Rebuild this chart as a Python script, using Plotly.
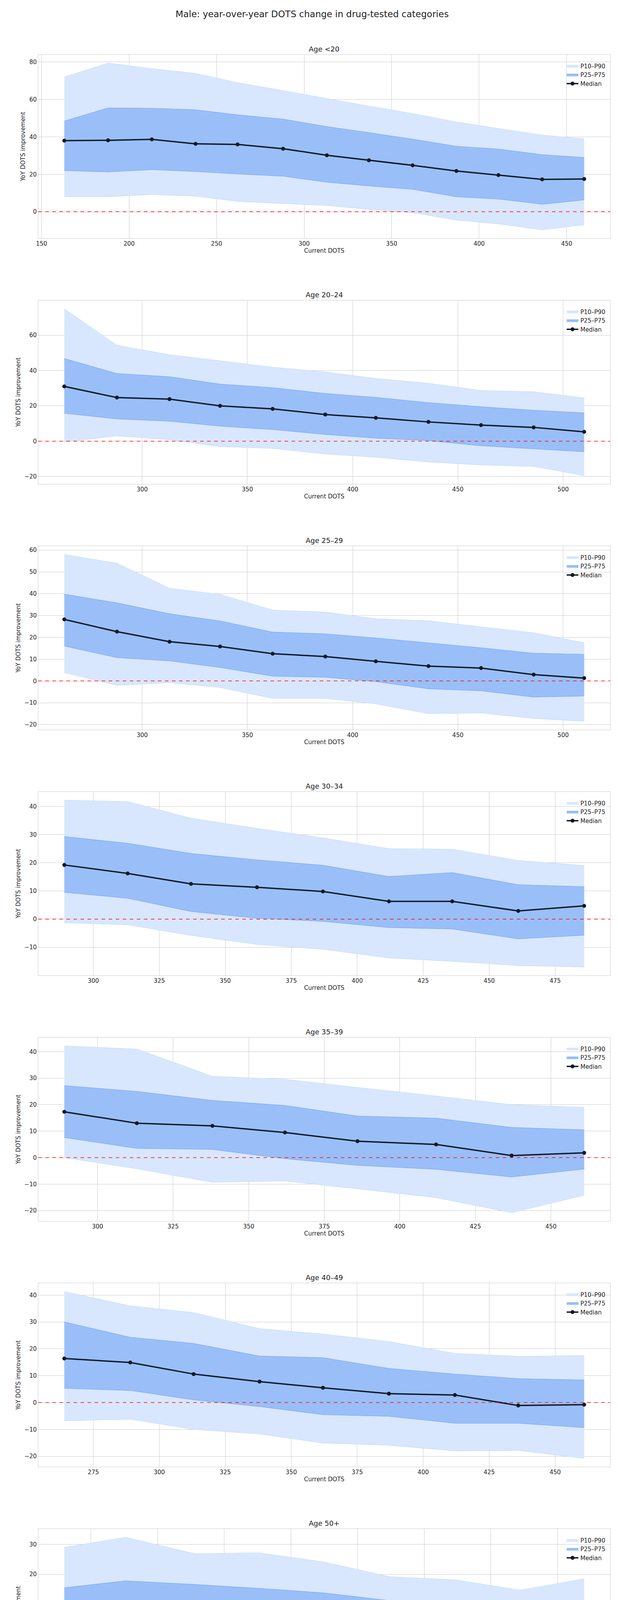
import plotly.graph_objects as go
from plotly.subplots import make_subplots

ages = ["<20", "20–24", "25–29", "30–34", "35–39", "40–49", "50+"]

# current DOTS bins (x) per age group
x_u20 = [163, 188, 213, 238, 262, 288, 313, 337, 362, 387, 411, 436, 460]
x_2024 = [263, 288, 313, 337, 362, 387, 411, 436, 461, 486, 510]
x_2529 = [263, 288, 313, 337, 362, 387, 411, 436, 461, 486, 510]
x_3034 = [289, 313, 337, 362, 387, 412, 436, 461, 486]
x_3539 = [289, 313, 338, 362, 386, 412, 437, 461]
x_4049 = [264, 289, 313, 338, 362, 387, 412, 436, 461]
x_50p = [215, 238, 264, 288, 312, 337, 362, 386, 410]

med_u20 = [38, 38.2, 38.7, 36.3, 36, 33.7, 30.2, 27.5, 24.8, 21.8, 19.6, 17.3, 17.5]
p75_u20 = [48.5, 55.5, 55.3, 54.5, 51.8, 49.5, 45.5, 42.3, 38.8, 35, 33.5, 30.5, 29]
p25_u20 = [22, 21.3, 22.5, 21.5, 20.2, 19, 15.8, 13.8, 12, 8, 6.8, 4, 6.3]
p90_u20 = [72, 79.5, 76.5, 74, 69, 64.8, 60.5, 56.5, 52.5, 48, 44.5, 41, 39]
p10_u20 = [8, 8, 9.2, 8.3, 5.5, 4.3, 3.3, 1.2, -0.5, -4.5, -6.5, -9.7, -7]

med_2024 = [31, 24.7, 23.8, 20, 18.3, 15.1, 13.2, 10.9, 9.1, 7.8, 5.3]
p75_2024 = [46.8, 38.3, 36.5, 32.3, 30.3, 27, 24.8, 21.8, 19.5, 17.5, 16]
p25_2024 = [15.8, 12.6, 11.3, 8.5, 6.6, 3.8, 1.7, 0.3, -2.6, -4.3, -6]
p90_2024 = [75, 54.3, 49, 45.5, 41.9, 39.2, 35.5, 32.8, 28.7, 28, 24.5]
p10_2024 = [-0.5, 3, 0.8, -3.1, -4.1, -7.3, -9.1, -11.8, -13.5, -14.3, -19.5]

med_2529 = [28.2, 22.6, 18, 15.8, 12.5, 11.2, 9, 6.8, 5.9, 2.9, 1.3]
p75_2529 = [39.8, 35.8, 30.8, 27.5, 22.4, 21.6, 19.7, 17.4, 15.2, 12.7, 12.2]
p25_2529 = [16, 10.7, 9.2, 6.2, 2.2, 1.7, -0.3, -3.6, -4.5, -7.4, -6.9]
p90_2529 = [58, 54, 42.5, 39.7, 32.5, 31.6, 28.5, 27.6, 24.8, 22.1, 17.5]
p10_2529 = [3.8, -2, -0.8, -3, -8, -8, -10.5, -15, -14.7, -17.2, -18.5]

med_3034 = [19.2, 16.2, 12.5, 11.3, 9.8, 6.3, 6.3, 2.9, 4.7]
p75_3034 = [29.3, 26.9, 23.3, 21, 19.1, 15.1, 16.5, 12.2, 11.5]
p25_3034 = [9.5, 7.4, 2.7, 0.3, -0.8, -3, -3.5, -7, -5.7]
p90_3034 = [42.2, 41.7, 35.8, 32.2, 28.8, 25, 24.8, 20.8, 19]
p10_3034 = [-1.3, -2, -5.8, -9, -10.7, -13.8, -15, -16.5, -17]

med_3539 = [17.3, 13, 12, 9.5, 6.2, 5, 0.8, 1.8]
p75_3539 = [27.2, 25, 21.6, 19.7, 15.7, 14.9, 11.4, 10.5]
p25_3539 = [7.6, 3.5, 3.1, -0.4, -2.9, -4.4, -7.3, -4.3]
p90_3539 = [42.2, 41, 30.7, 29.6, 26.5, 23.3, 20, 19]
p10_3539 = [0, -4.2, -9.3, -8.8, -11.8, -15.1, -20.8, -14.2]

med_4049 = [16.4, 14.9, 10.6, 7.8, 5.5, 3.3, 2.8, -1.1, -0.8]
p75_4049 = [30, 24.3, 22, 17.3, 16.7, 12.7, 10.6, 8.9, 8.4]
p25_4049 = [5.3, 4.5, 1, -1.5, -4.5, -5.1, -7.7, -7.7, -9.3]
p90_4049 = [41.3, 36, 33.5, 27.5, 25.5, 22.7, 18.3, 17.2, 17.5]
p10_4049 = [-6.8, -6.2, -10, -11.7, -15.1, -15.9, -18, -17.8, -20.8]

med_50p = [6.5, 7.2, 5.8, 5.8, 4.4, 2.3, 1.5, -0.4, -0.3]
p75_50p = [15.5, 17.8, 16.6, 15.3, 13.8, 11.2, 9.2, 8.3, 7.5]
p25_50p = [-3, -2.8, -4.1, -4.7, -5.8, -7.6, -7.5, -10.1, -10.9]
p90_50p = [29, 32.4, 26.9, 27.2, 24.2, 19.2, 18.1, 14.7, 18.5]
p10_50p = [-11.1, -12.4, -12.7, -14.9, -16.2, -18.1, -18.5, -23.5, -19.5]

groups = [
    (x_u20, med_u20, p25_u20, p75_u20, p10_u20, p90_u20, 50, 20),
    (x_2024, med_2024, p25_2024, p75_2024, p10_2024, p90_2024, 50, 20),
    (x_2529, med_2529, p25_2529, p75_2529, p10_2529, p90_2529, 50, 10),
    (x_3034, med_3034, p25_3034, p75_3034, p10_3034, p90_3034, 25, 10),
    (x_3539, med_3539, p25_3539, p75_3539, p10_3539, p90_3539, 25, 10),
    (x_4049, med_4049, p25_4049, p75_4049, p10_4049, p90_4049, 25, 10),
    (x_50p, med_50p, p25_50p, p75_50p, p10_50p, p90_50p, 25, 10),
]

LIGHT = "#d8e7fd"
LIGHT_LINE = "#c2d9fb"
MID = "#9abff8"
MID_LINE = "#6f9ff0"
FONT = "DejaVu Sans"

fig = make_subplots(
    rows=7, cols=1,
    subplot_titles=[f"Age {a}" for a in ages],
    vertical_spacing=0.0375,
)

for i, (x, med, p25, p75, p10, p90, dx, dy) in enumerate(groups):
    r = i + 1
    leg = "legend" if r == 1 else f"legend{r}"
    fig.add_trace(go.Scatter(x=x, y=p10, mode="lines", line=dict(color=LIGHT_LINE, width=1),
                             showlegend=False, hoverinfo="skip", legend=leg), row=r, col=1)
    fig.add_trace(go.Scatter(x=x, y=p90, mode="lines", line=dict(color=LIGHT_LINE, width=1),
                             fill="tonexty", fillcolor=LIGHT, name="P10–P90", legend=leg), row=r, col=1)
    fig.add_trace(go.Scatter(x=x, y=p25, mode="lines", line=dict(color=MID_LINE, width=1),
                             showlegend=False, hoverinfo="skip", legend=leg), row=r, col=1)
    fig.add_trace(go.Scatter(x=x, y=p75, mode="lines", line=dict(color=MID_LINE, width=1),
                             fill="tonexty", fillcolor=MID, name="P25–P75", legend=leg), row=r, col=1)
    fig.add_trace(go.Scatter(x=x, y=med, mode="lines+markers", line=dict(color="#111827", width=3.5),
                             marker=dict(size=10, color="#111827"), name="Median", legend=leg), row=r, col=1)

    xpad = 0.05 * (max(x) - min(x))
    lo, hi = min(p10), max(p90)
    ypad = 0.05 * (hi - lo)
    fig.add_hline(y=0, line=dict(color="red", width=1.5, dash="dash"), row=r, col=1)
    fig.update_xaxes(range=[min(x) - xpad, max(x) + xpad], dtick=dx, title_text="Current DOTS",
                     title_standoff=4, row=r, col=1)
    fig.update_yaxes(range=[lo - ypad, hi + ypad], dtick=dy, title_text="YoY DOTS improvement",
                     title_standoff=6, row=r, col=1)

    dom = fig.layout[f"yaxis{'' if r == 1 else r}"].domain
    fig.layout[leg] = dict(x=0.995, y=dom[1] - 0.003, xanchor="right", yanchor="top",
                           traceorder="normal", bgcolor="rgba(255,255,255,0)",
                           font=dict(size=15, family=FONT), tracegroupgap=4)

fig.update_xaxes(showgrid=True, gridcolor="#cccccc", zeroline=False, showline=True, linecolor="#cccccc",
                 mirror=True, ticks="", tickfont=dict(size=15), title_font=dict(size=15))
fig.update_yaxes(showgrid=True, gridcolor="#cccccc", zeroline=False, showline=True, linecolor="#cccccc",
                 mirror=True, ticks="", tickfont=dict(size=15), title_font=dict(size=15))
fig.update_annotations(font=dict(size=18, family=FONT, color="#222"), yshift=2)

fig.update_layout(
    width=1581, height=4487,
    title=dict(text="Male: year-over-year DOTS change in drug-tested categories", x=0.5, y=0.9955,
               xanchor="center", font=dict(size=23, family=FONT, color="#222")),
    font=dict(family=FONT, color="#222"),
    plot_bgcolor="white", paper_bgcolor="white",
    margin=dict(l=90, r=28, t=132, b=111),
)

fig.write_html("out.html")
